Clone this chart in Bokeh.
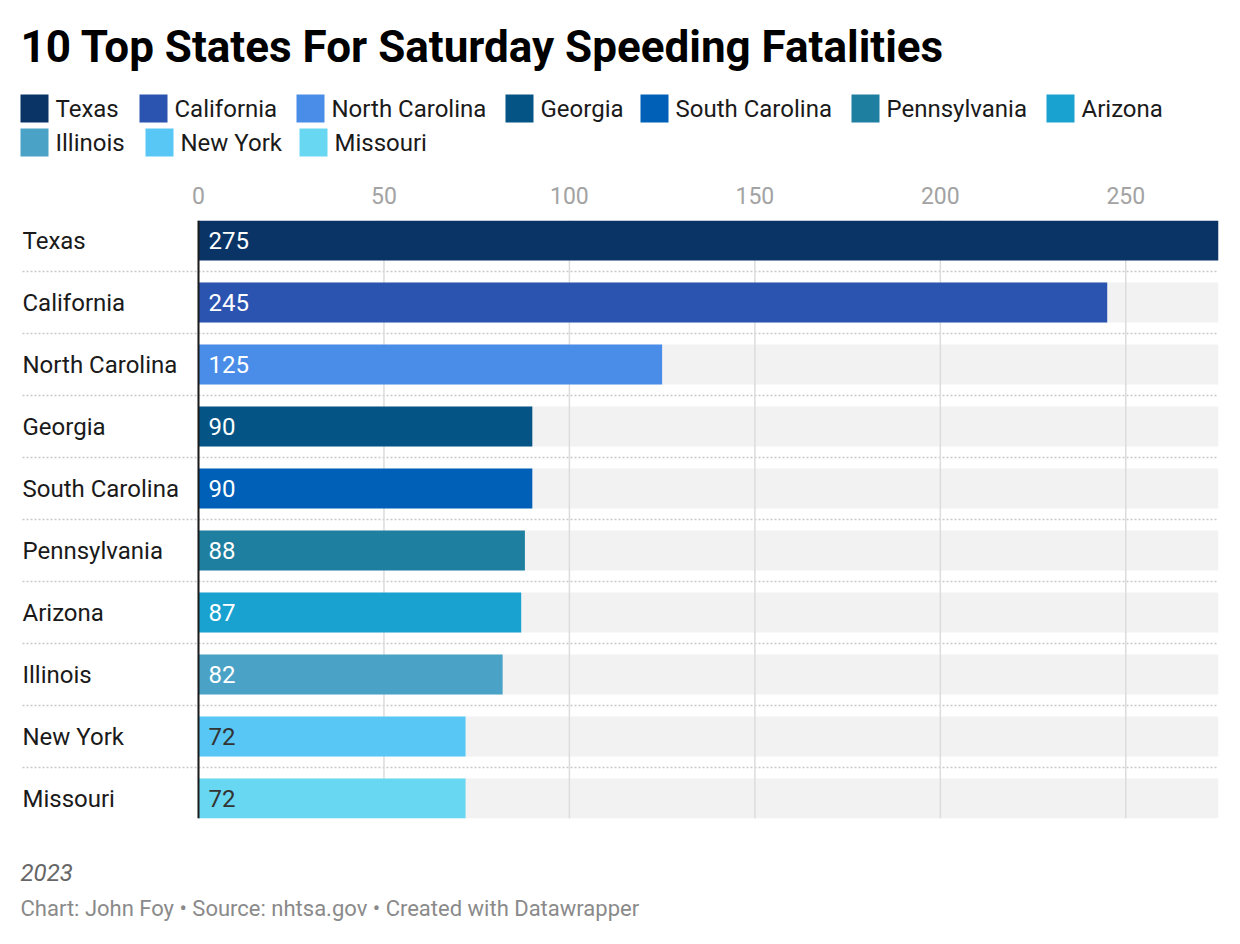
from bokeh.plotting import figure
from bokeh.layouts import column
from bokeh.models import Range1d, FixedTicker, Grid, Span, ColumnDataSource
from bokeh.core.properties import value
from bokeh.embed import file_html
from bokeh.resources import INLINE

# ---- data ----
states = ["Texas", "California", "North Carolina", "Georgia", "South Carolina",
          "Pennsylvania", "Arizona", "Illinois", "New York", "Missouri"]
fatalities = [275, 245, 125, 90, 90, 88, 87, 82, 72, 72]
colors = ["#0a3466", "#2b53b0", "#4a8de8", "#045585", "#0060b8",
          "#1f7fa0", "#19a2d0", "#4aa3c6", "#58c7f5", "#68d7f1"]
label_colors = ["#ffffff"] * 8 + ["#333333", "#333333"]
x_ticks = [0, 50, 100, 150, 200, 250]

title_text = "10 Top States For Saturday Speeding Fatalities"
notes_text = "2023"
credit_text = "Chart: John Foy \u2022 Source: nhtsa.gov \u2022 Created with Datawrapper"

FONT = value("Roboto")
W = 1240
B_LEFT, B_RIGHT = 18, 22   # shared frame borders (column aligns frames)


def blank(height):
    # pixel-like coordinates: x in page px, y downward from the figure top
    f = figure(width=W, height=height, x_range=Range1d(B_LEFT, W - B_RIGHT),
               y_range=Range1d(height, 0),
               x_axis_location=None, y_axis_location=None,
               toolbar_location=None, output_backend="svg",
               min_border_left=B_LEFT, min_border_right=B_RIGHT,
               min_border_top=0, min_border_bottom=0)
    f.grid.visible = False
    f.outline_line_color = None
    return f


# ---- header: title + legend ----
header = blank(170)
header.text(x=[20], y=[46], text=[title_text], text_font=FONT, text_font_size="44px",
            text_font_style="bold", text_color="#000000",
            text_align="left", text_baseline="middle")

# legend layout: swatch left edge and row for each entry
leg_x = [20, 139, 296, 505, 640, 851, 1046, 20, 145, 299]
leg_row = [108, 108, 108, 108, 108, 108, 108, 142, 142, 142]
leg_src = ColumnDataSource(dict(
    x=[v + 14 for v in leg_x], tx=[v + 35 for v in leg_x], y=leg_row,
    color=colors, name=states))
header.rect(x="x", y="y", width=28, height=28, fill_color="color", line_color=None,
            source=leg_src)
header.text(x="tx", y="y", text="name", text_font=FONT, text_font_size="24px",
            text_color="#1a1a1a", text_align="left", text_baseline="middle",
            source=leg_src)

# ---- main bar chart ----
x_max = 275
zero_px = 198.0            # page x of the zero line
frame_w = W - B_LEFT - B_RIGHT
left_pad = zero_px - B_LEFT
x_start = -left_pad * x_max / (frame_w - left_pad)
half = 20.0 / 62.0
idx = list(range(len(states)))

p = figure(width=W, height=670,
           x_range=Range1d(x_start, x_max),
           y_range=Range1d(len(states) - 1 + half, -half),
           x_axis_location="above", y_axis_location=None,
           toolbar_location=None, output_backend="svg",
           min_border_left=B_LEFT, min_border_right=B_RIGHT,
           min_border_top=50, min_border_bottom=22)
p.outline_line_color = None
p.xgrid.grid_line_color = None
p.ygrid.grid_line_color = None

src = ColumnDataSource(dict(y=idx, v=fatalities, color=colors,
                            label=[str(v) for v in fatalities],
                            lcolor=label_colors, state=states))

# dotted row separators, starting under the label column
p.segment(x0=x_start + 4 * x_max / (frame_w - left_pad), x1=x_max,
          y0=[i + 0.5 for i in idx[:-1]], y1=[i + 0.5 for i in idx[:-1]],
          line_color="#c9c9c9", line_dash="2 2", line_width=1.5)

bar_h = 40.0 / 62.0
# light track behind each bar
p.hbar(y="y", left=0, right=x_max, height=bar_h, fill_color="#f2f2f2",
       line_color=None, source=src)
# vertical gridlines
p.segment(x0=x_ticks, x1=x_ticks, y0=[len(states) - 1 + half] * len(x_ticks),
          y1=[-half] * len(x_ticks), line_color="#dcdcdc", line_width=1.5)
# bars
p.hbar(y="y", left=0, right="v", height=bar_h, fill_color="color",
       line_color=None, source=src)

# zero line
p.add_layout(Span(location=0, dimension="height", line_color="#1a1a1a", line_width=2))

# value labels inside bars
p.text(x=0, y="y", text="label", x_offset=10, text_font=FONT, text_font_size="24px",
       text_color="lcolor", text_align="left", text_baseline="middle", source=src)
# state labels
p.text(x=x_start, y="y", text="state", x_offset=4, text_font=FONT, text_font_size="24px",
       text_color="#1a1a1a", text_align="left", text_baseline="middle", source=src)

ax = p.xaxis[0]
ax.ticker = FixedTicker(ticks=x_ticks)
ax.axis_line_color = None
ax.major_tick_line_color = None
ax.minor_tick_line_color = None
ax.major_label_text_font = "Roboto"
ax.major_label_text_font_size = "23px"
ax.major_label_text_color = "#a3a3a3"
ax.major_label_standoff = 11

# ---- footer ----
footer = blank(100)
footer.text(x=[20], y=[32], text=[notes_text], text_font=FONT, text_font_size="24px",
            text_font_style="italic", text_color="#666666",
            text_align="left", text_baseline="middle")
footer.text(x=[20], y=[68], text=[credit_text], text_font=FONT, text_font_size="22px",
            text_color="#8a8a8a", text_align="left", text_baseline="middle")

layout = column(header, p, footer, spacing=0)
open("out.html", "w").write(file_html(layout, INLINE))
